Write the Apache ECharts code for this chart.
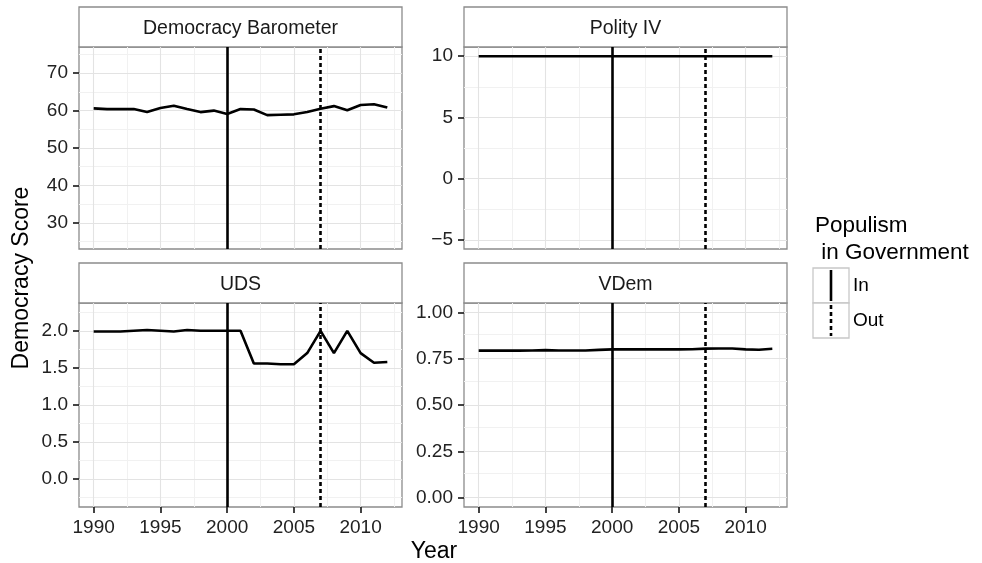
<!DOCTYPE html>
<html>
<head>
<meta charset="utf-8">
<script src="https://cdn.jsdelivr.net/npm/echarts@6/dist/echarts.min.js"></script>
<style>
  html, body { margin: 0; padding: 0; background: #fff; }
  #chart { width: 982px; height: 563px; }
</style>
</head>
<body>
<div id="chart"></div>
<script>
// Years covered by every index
const years = [1990, 1991, 1992, 1993, 1994, 1995, 1996, 1997, 1998, 1999, 2000, 2001,
               2002, 2003, 2004, 2005, 2006, 2007, 2008, 2009, 2010, 2011, 2012];

// Democracy scores per index
const democracyBarometer = [60.6, 60.4, 60.4, 60.4, 59.6, 60.7, 61.3, 60.4, 59.6, 60.0, 59.1, 60.4,
                            60.3, 58.8, 58.9, 59.0, 59.6, 60.5, 61.2, 60.1, 61.5, 61.7, 60.8];
const polityIV = [10, 10, 10, 10, 10, 10, 10, 10, 10, 10, 10, 10,
                  10, 10, 10, 10, 10, 10, 10, 10, 10, 10, 10];
const uds = [1.99, 1.99, 1.99, 2.00, 2.01, 2.00, 1.99, 2.01, 2.00, 2.00, 2.00, 2.00,
             1.56, 1.56, 1.55, 1.55, 1.70, 2.00, 1.70, 2.00, 1.70, 1.57, 1.58];
const vdem = [0.793, 0.793, 0.793, 0.793, 0.794, 0.796, 0.794, 0.794, 0.794, 0.797, 0.800, 0.800,
              0.800, 0.800, 0.800, 0.800, 0.801, 0.804, 0.805, 0.805, 0.800, 0.798, 0.803];

// Populism in government: entered (solid) and left (dashed)
const populismIn = [2000];
const populismOut = [2007];

// Tick labels
const xTicks = [1990, 1995, 2000, 2005, 2010];
const dbTicks = [30, 40, 50, 60, 70];
const polityTicks = [-5, 0, 5, 10];
const udsTicks = [0.0, 0.5, 1.0, 1.5, 2.0];
const vdemTicks = [0.00, 0.25, 0.50, 0.75, 1.00];

const panelTitles = ['Democracy Barometer', 'Polity IV', 'UDS', 'VDem'];

// ---- layout ----
const FONT = '"Liberation Sans", Arial, sans-serif';
const panels = [
  { left: 79,  top: 47,  width: 323, height: 202, values: democracyBarometer, ticks: dbTicks,     range: [23, 77],        digits: 0, bottom: false },
  { left: 464, top: 47,  width: 323, height: 202, values: polityIV,           ticks: polityTicks, range: [-5.75, 10.75],  digits: 0, bottom: false },
  { left: 79,  top: 303, width: 323, height: 204, values: uds,                ticks: udsTicks,    range: [-0.375, 2.375], digits: 1, bottom: true },
  { left: 464, top: 303, width: 323, height: 204, values: vdem,               ticks: vdemTicks,   range: [-0.05, 1.05],   digits: 2, bottom: true }
];
const xRange = [1990 - 1.1, 2012 + 1.1];

// midpoints between consecutive ticks, extended one step beyond each end
function minorOf(ticks, range) {
  const step = ticks[1] - ticks[0];
  const out = [];
  for (let v = ticks[0] - step / 2; v <= ticks[ticks.length - 1] + step / 2 + 1e-9; v += step) {
    if (v > range[0] && v < range[1]) out.push(+v.toFixed(6));
  }
  return out;
}

const grids = [], xAxes = [], yAxes = [], series = [], graphics = [];
const tickStyle = { color: '#222', width: 1.7 };

panels.forEach((p, i) => {
  grids.push({
    left: p.left, top: p.top, width: p.width, height: p.height,
    show: true, borderColor: '#8c8c8c', borderWidth: 1.3, backgroundColor: '#fff'
  });
  xAxes.push({
    type: 'value', gridIndex: i, min: xRange[0], max: xRange[1], position: 'bottom',
    axisLine: { show: false, onZero: false }, splitLine: { show: false },
    axisTick: { show: p.bottom, customValues: xTicks, length: 6, lineStyle: tickStyle },
    axisLabel: {
      show: p.bottom, customValues: xTicks, margin: 11, color: '#222', fontSize: 19, fontFamily: FONT,
      formatter: v => String(v)
    }
  });
  yAxes.push({
    type: 'value', gridIndex: i, min: p.range[0], max: p.range[1], position: 'left',
    axisLine: { show: false, onZero: false }, splitLine: { show: false },
    axisTick: { show: true, customValues: p.ticks, length: 6, lineStyle: tickStyle },
    axisLabel: {
      customValues: p.ticks, margin: 11, color: '#222', fontSize: 19, fontFamily: FONT,
      formatter: v => (v < 0 ? '\u2212' + Math.abs(v).toFixed(p.digits) : v.toFixed(p.digits))
    }
  });

  // background grid (minor first, then major)
  const xMinor = minorOf(xTicks, xRange);
  const yMinor = minorOf(p.ticks, p.range);
  const minorStyle = { color: '#f1f1f1', width: 1, type: 'solid' };
  const majorStyle = { color: '#e3e3e3', width: 1.1, type: 'solid' };
  const gridLines = [];
  xMinor.forEach(v => gridLines.push({ xAxis: v, lineStyle: minorStyle }));
  yMinor.forEach(v => gridLines.push({ yAxis: v, lineStyle: minorStyle }));
  xTicks.forEach(v => gridLines.push({ xAxis: v, lineStyle: majorStyle }));
  p.ticks.forEach(v => gridLines.push({ yAxis: v, lineStyle: majorStyle }));
  series.push({
    type: 'line', xAxisIndex: i, yAxisIndex: i, data: [], silent: true, z: 1,
    markLine: {
      silent: true, symbol: 'none', animation: false, z: 1, label: { show: false },
      lineStyle: { type: 'solid' }, emphasis: { disabled: true }, data: gridLines
    }
  });

  // score line with the populism markers
  series.push({
    type: 'line', xAxisIndex: i, yAxisIndex: i, z: 3,
    data: years.map((y, k) => [y, p.values[k]]),
    showSymbol: false, lineStyle: { color: '#000', width: 2.6 },
    markLine: {
      silent: true, symbol: 'none', animation: false, z: 4, label: { show: false },
      emphasis: { disabled: true },
      data: [
        ...populismIn.map(v => ({ xAxis: v, lineStyle: { color: '#000', width: 2.6, type: 'solid' } })),
        ...populismOut.map(v => ({ xAxis: v, lineStyle: { color: '#000', width: 2.6, type: [4, 3] } }))
      ]
    }
  });

  // facet strip
  graphics.push({
    type: 'rect', shape: { x: p.left, y: p.top - 40, width: p.width, height: 40 },
    style: { fill: '#fff', stroke: '#8c8c8c', lineWidth: 1.3 }
  });
  graphics.push({
    type: 'text', x: p.left + p.width / 2, y: p.top - 18,
    style: { text: panelTitles[i], font: '19.5px ' + FONT, fill: '#1a1a1a', align: 'center', verticalAlign: 'middle' }
  });
});

// axis titles
graphics.push({
  type: 'text', x: 22, y: 278, rotation: Math.PI / 2,
  style: { text: 'Democracy Score', font: '23px ' + FONT, fill: '#000', align: 'center', verticalAlign: 'middle' }
});
graphics.push({
  type: 'text', x: 434, y: 552,
  style: { text: 'Year', font: '23px ' + FONT, fill: '#000', align: 'center', verticalAlign: 'middle' }
});

// legend
graphics.push({
  type: 'text', x: 815, y: 212,
  style: { text: 'Populism\n in Government', font: '22.5px ' + FONT, lineHeight: 27, fill: '#000', align: 'left', verticalAlign: 'top' }
});
const legendItems = [{ label: 'In', dash: 'solid' }, { label: 'Out', dash: [4, 3] }];
legendItems.forEach((it, k) => {
  const y0 = 268 + k * 35;
  graphics.push({
    type: 'rect', shape: { x: 813, y: y0, width: 36, height: 35 },
    style: { fill: '#fff', stroke: '#c8c8c8', lineWidth: 1.3 }
  });
  graphics.push({
    type: 'line', shape: { x1: 831, y1: y0 + 2, x2: 831, y2: y0 + 33 },
    style: { stroke: '#000', lineWidth: 2.6, lineDash: it.dash === 'solid' ? null : it.dash }
  });
  graphics.push({
    type: 'text', x: 853, y: y0 + 18,
    style: { text: it.label, font: '19px ' + FONT, fill: '#000', align: 'left', verticalAlign: 'middle' }
  });
});

const chart = echarts.init(document.getElementById('chart'), null, { renderer: 'canvas' });
chart.setOption({
  animation: false,
  backgroundColor: '#fff',
  grid: grids,
  xAxis: xAxes,
  yAxis: yAxes,
  series: series,
  graphic: graphics
});
</script>
</body>
</html>
